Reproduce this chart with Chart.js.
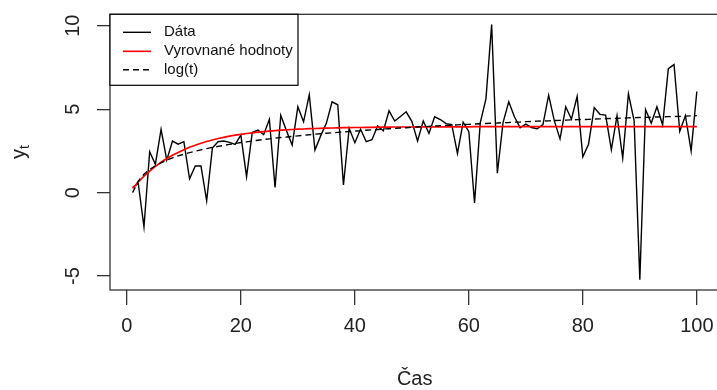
<!DOCTYPE html>
<html><head><meta charset="utf-8">
<script src="https://cdn.jsdelivr.net/npm/chart.js@4"></script>
<style>
html,body{margin:0;padding:0;background:#fff;overflow:hidden;width:717px;height:390px}
#wrap{position:relative;width:724px;height:390px}
</style></head>
<body><div id="wrap"><canvas id="c" width="724" height="390"></canvas></div>
<script>
const t = [1,2,3,4,5,6,7,8,9,10,11,12,13,14,15,16,17,18,19,20,21,22,23,24,25,26,27,28,29,30,31,32,33,34,35,36,37,38,39,40,41,42,43,44,45,46,47,48,49,50,51,52,53,54,55,56,57,58,59,60,61,62,63,64,65,66,67,68,69,70,71,72,73,74,75,76,77,78,79,80,81,82,83,84,85,86,87,88,89,90,91,92,93,94,95,96,97,98,99,100];
const dataVals = [0.3,0.55,-2.05,2.45,1.7,3.79,1.95,3.09,2.9,3.05,0.83,1.6,1.6,-0.49,2.67,3.05,3.09,3.01,2.89,3.45,
  0.96,3.6,3.75,3.47,4.39,0.31,4.64,3.7,2.85,5.14,4.24,5.86,2.55,3.4,4.15,5.44,5.26,0.46,3.85,2.99,
  3.8,3.05,3.17,3.99,3.7,4.9,4.29,4.56,4.84,4.27,3.09,4.29,3.55,4.54,4.38,4.13,4.07,2.35,4.22,3.65,
  -0.62,4.18,5.62,10.07,1.16,4.2,5.44,4.54,3.88,4.1,3.9,3.82,4.07,5.84,4.3,3.22,5.14,4.4,5.76,2.15,
  2.9,5.09,4.69,4.64,2.57,4.61,2.07,5.92,4.3,-5.22,4.98,4.15,5.14,4.05,7.43,7.67,3.67,4.61,2.5,6.06];
const fittedVals = [0.26,0.64,0.99,1.29,1.57,1.82,2.04,2.24,2.41,2.57,2.72,2.84,2.96,3.06,3.15,3.24,3.31,3.38,3.44,3.49,
  3.54,3.58,3.62,3.65,3.68,3.71,3.74,3.76,3.78,3.80,3.81,3.83,3.84,3.85,3.86,3.87,3.88,3.89,3.89,3.90,
  3.90,3.91,3.91,3.92,3.92,3.92,3.93,3.93,3.93,3.93,3.94,3.94,3.94,3.94,3.94,3.94,3.94,3.94,3.94,3.94,
  3.95,3.95,3.95,3.95,3.95,3.95,3.95,3.95,3.95,3.95,3.95,3.95,3.95,3.95,3.95,3.95,3.95,3.95,3.95,3.95,
  3.95,3.95,3.95,3.95,3.95,3.95,3.95,3.95,3.95,3.95,3.95,3.95,3.95,3.95,3.95,3.95,3.95,3.95,3.95,3.95];
const logVals = [0,0.69,1.10,1.39,1.61,1.79,1.95,2.08,2.20,2.30,2.40,2.48,2.56,2.64,2.71,2.77,2.83,2.89,2.94,3.00,
  3.04,3.09,3.14,3.18,3.22,3.26,3.30,3.33,3.37,3.40,3.43,3.47,3.50,3.53,3.56,3.58,3.61,3.64,3.66,3.69,
  3.71,3.74,3.76,3.78,3.81,3.83,3.85,3.87,3.89,3.91,3.93,3.95,3.97,3.99,4.01,4.03,4.04,4.06,4.08,4.09,
  4.11,4.13,4.14,4.16,4.17,4.19,4.20,4.22,4.23,4.25,4.26,4.28,4.29,4.30,4.32,4.33,4.34,4.36,4.37,4.38,
  4.39,4.41,4.42,4.43,4.44,4.45,4.47,4.48,4.49,4.50,4.51,4.52,4.53,4.54,4.55,4.56,4.57,4.58,4.60,4.61];
const xTicks = [0,20,40,60,80,100];
const yTicks = [-5,0,5,10];
const legendLabels = ['Dáta','Vyrovnané hodnoty','log(t)'];
const xTitle = 'Čas';
const yTitleMain = 'y';
const yTitleSub = 't';

const FONT = '"Liberation Sans", Arial, sans-serif';
const pts = vals => t.map((x,i)=>({x:x,y:vals[i]}));

const overlay = {
  id:'overlay',
  afterDatasetsDraw(chart){
    const ctx = chart.ctx, a = chart.chartArea;
    ctx.save();
    ctx.strokeStyle = '#333'; ctx.lineWidth = 1.3;
    ctx.strokeRect(a.left, a.top, a.right - a.left, a.bottom - a.top);
    const lx = a.left, ly = a.top, lw = 188, lh = 71;
    ctx.fillStyle = '#fff';
    ctx.fillRect(lx, ly, lw, lh);
    ctx.strokeStyle = '#000'; ctx.lineWidth = 1.2;
    ctx.strokeRect(lx, ly, lw, lh);
    const rows = [ly+18, ly+37, ly+55.5];
    const styles = [{c:'#000',d:[],w:1.4},{c:'#ff0000',d:[],w:1.6},{c:'#000',d:[6,4],w:1.4}];
    ctx.font = '15px ' + FONT; ctx.textBaseline = 'middle'; ctx.textAlign = 'left';
    rows.forEach((y,i)=>{
      ctx.beginPath(); ctx.setLineDash(styles[i].d);
      ctx.strokeStyle = styles[i].c; ctx.lineWidth = styles[i].w;
      ctx.moveTo(lx+13, y); ctx.lineTo(lx+41, y); ctx.stroke();
      ctx.setLineDash([]);
      ctx.fillStyle = '#111';
      ctx.fillText(legendLabels[i], lx+54, y);
    });
    const ys = chart.scales.y;
    ctx.font = '20px ' + FONT; ctx.fillStyle = '#222'; ctx.textAlign = 'center';
    yTicks.forEach(v=>{
      const py = ys.getPixelForValue(v);
      ctx.save(); ctx.translate(73, py); ctx.rotate(-Math.PI/2);
      ctx.fillText(String(v), 0, 0); ctx.restore();
    });
    ctx.fillText(xTitle, (a.left + a.right)/2, 379);
    const cy = (a.top + a.bottom)/2;
    ctx.save(); ctx.translate(21, cy); ctx.rotate(-Math.PI/2);
    ctx.font = '20px ' + FONT;
    const w1 = ctx.measureText(yTitleMain).width;
    ctx.font = '14px ' + FONT;
    const w2 = ctx.measureText(yTitleSub).width;
    ctx.textAlign = 'left';
    ctx.font = '20px ' + FONT;
    ctx.fillText(yTitleMain, -(w1+w2)/2, -2);
    ctx.font = '14px ' + FONT;
    ctx.fillText(yTitleSub, -(w1+w2)/2 + w1, 4);
    ctx.restore();
    ctx.restore();
  }
};

new Chart(document.getElementById('c'), {
  type:'line',
  data:{datasets:[
    {label:legendLabels[0], data:pts(dataVals), borderColor:'#000', borderWidth:1.4, pointRadius:0, tension:0, order:3},
    {label:legendLabels[1], data:pts(fittedVals), borderColor:'#ff0000', borderWidth:1.7, pointRadius:0, tension:0, order:2},
    {label:legendLabels[2], data:pts(logVals), borderColor:'#000', borderWidth:1.4, borderDash:[6,4], pointRadius:0, tension:0, order:1}
  ]},
  options:{
    responsive:false, animation:false, devicePixelRatio:1,
    layout:{padding:{left:0, top:14.3, right:4.6, bottom:0}},
    plugins:{legend:{display:false}, tooltip:{enabled:false}},
    scales:{
      x:{type:'linear', min:-2.96, max:103.96,
        afterBuildTicks: s => { s.ticks = xTicks.map(v=>({value:v})); },
        afterFit: s => { s.height = 100; },
        grid:{drawOnChartArea:false, drawTicks:true, tickLength:15, color:'#333', lineWidth:1.3},
        border:{display:false},
        ticks:{font:{size:20, family:FONT}, color:'#222', padding:9, maxRotation:0, autoSkip:false}
      },
      y:{type:'linear', min:-5.83, max:10.68,
        afterBuildTicks: s => { s.ticks = yTicks.map(v=>({value:v})); },
        afterFit: s => { s.width = 110; },
        grid:{drawOnChartArea:false, drawTicks:true, tickLength:13, color:'#333', lineWidth:1.3},
        border:{display:false},
        ticks:{display:false}
      }
    }
  },
  plugins:[overlay]
});
</script></body></html>
